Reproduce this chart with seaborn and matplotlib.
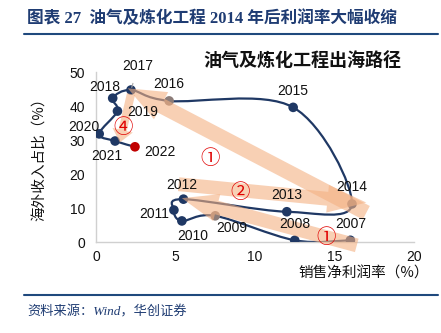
import numpy as np
import pandas as pd
import matplotlib
matplotlib.use("Agg")
import matplotlib.pyplot as plt
import seaborn as sns
from matplotlib.path import Path
from matplotlib.patches import PathPatch, FancyArrowPatch, ArrowStyle
from matplotlib.lines import Line2D

# ---- data ----
years = [2007, 2008, 2009, 2010, 2011, 2012, 2013, 2014, 2015, 2016, 2017, 2018, 2019, 2020, 2021, 2022]
net_margin = [16.0, 12.5, 7.5, 5.4, 4.9, 5.5, 12.0, 16.1, 12.4, 4.6, 2.2, 1.05, 1.35, 0.2, 1.2, 2.45]
overseas_share = [0.5, 0.5, 7.7, 6.2, 9.4, 12.6, 8.9, 11.2, 39.6, 41.5, 44.7, 42.3, 38.5, 31.8, 29.7, 28.0]
title_text = "图表 27  油气及炼化工程 2014 年后利润率大幅收缩"
inner_title = "油气及炼化工程出海路径"
x_label = "销售净利润率（%）"
y_label = "海外收入占比（%）"
source_text = "资料来源：Wind，华创证券"

# label offsets in points (style only)
label_offsets = {2007: (0, 12), 2008: (0, 12), 2009: (12, -9), 2010: (8, -11), 2011: (-14, -3),
                 2012: (-1, 10), 2013: (0, 12), 2014: (0, 12), 2015: (0, 12), 2016: (0, 12),
                 2017: (5, 17), 2018: (-6, 8), 2019: (18, -1), 2020: (-11, 5), 2021: (-6, -11),
                 2022: (18, -4)}

NAVY = "#1F3864"
GREY = "#8C7C78"
RED = "#C00000"
PEACH = "#F4B183"

sns.set_theme(style="white")
plt.rcParams["font.family"] = ["Liberation Sans", "Noto Sans CJK SC"]
plt.rcParams["axes.unicode_minus"] = False

fig = plt.figure(figsize=(4.41, 3.33), dpi=100)
ax = fig.add_axes([96/441, 1-242/333, 318/441, 170/333])

df = pd.DataFrame({"year": years, "margin": net_margin, "share": overseas_share})
df["kind"] = ["grey" if y in (2009, 2016) else ("red" if y == 2022 else "navy") for y in years]

# smooth connecting curve (Catmull-Rom → cubic Bezier through the data points)
P = df[["margin", "share"]].to_numpy()
verts = [P[0]]
codes = [Path.MOVETO]
n = len(P)
for i in range(n - 1):
    p0 = P[i - 1] if i > 0 else P[i]
    p1, p2 = P[i], P[i + 1]
    p3 = P[i + 2] if i + 2 < n else P[i + 1]
    c1 = p1 + (p2 - p0) / 6
    c2 = p2 - (p3 - p1) / 6
    verts += [c1, c2, p2]
    codes += [Path.CURVE4] * 3
ax.add_patch(PathPatch(Path(verts, codes), fill=False, edgecolor=NAVY, lw=1.6, zorder=2))

sns.scatterplot(data=df, x="margin", y="share", hue="kind",
                palette={"navy": NAVY, "grey": GREY, "red": RED},
                s=48, edgecolor="none", legend=False, zorder=3, ax=ax)

# translucent path arrows
def band(a, b, tail, hw, hl):
    st = ArrowStyle.Simple(head_length=hl, head_width=hw, tail_width=tail)
    ar = FancyArrowPatch(posA=a, posB=b, arrowstyle=st, mutation_scale=1,
                         shrinkA=0, shrinkB=0, color=PEACH, alpha=0.6, lw=0,
                         zorder=4, clip_on=False)
    ax.add_patch(ar)

band((17.0, 8.6), (2.0, 45.2), 11, 22, 27)     # ① upper
band((5.2, 17.0), (17.0, 11.6), 10, 20, 28)    # ②
band((16.4, -1.0), (5.4, 12.9), 10, 20, 26)    # ① lower
band((2.2, 43.5), (1.5, 29.3), 6, 15, 9)       # ④

# circled step numbers
circ = dict(color="#E00000", fontsize=14, ha="center", va="center",
            family=["Noto Sans CJK SC"], fontweight="light", zorder=6, clip_on=False)
ax.text(7.2, 24.7, "①", **circ)
ax.text(9.05, 14.7, "②", **circ)
ax.text(1.7, 33.8, "④", **circ)
ax.text(14.5, 1.2, "①", **circ)

# year labels
for yr, xx, yy in zip(years, net_margin, overseas_share):
    dx, dy = label_offsets[yr]
    if yr == 2017:
        ax.annotate(str(yr), (xx, yy), xytext=(dx, dy), textcoords="offset points",
                    ha="center", va="center", fontsize=10, color="#111111", zorder=7,
                    arrowprops=dict(arrowstyle="-", color="#A6A6A6", lw=0.8,
                                    shrinkA=5, shrinkB=2))
    else:
        ax.annotate(str(yr), (xx, yy), xytext=(dx, dy), textcoords="offset points",
                    ha="center", va="center", fontsize=10, color="#111111", zorder=7)

ax.set_xlim(0, 20)
ax.set_ylim(0, 50)
ax.set_xticks([0, 5, 10, 15, 20])
ax.set_yticks([0, 10, 20, 30, 40, 50])
ax.set_xlabel("")
ax.set_ylabel("")
for s in ["top", "right"]:
    ax.spines[s].set_visible(False)
for s in ["left", "bottom"]:
    ax.spines[s].set_color("#D0D0D0")
    ax.spines[s].set_linewidth(1.0)
ax.tick_params(axis="both", which="major", direction="out", length=3, width=0.8,
               color="#D0D0D0", labelsize=10, labelcolor="#111111", pad=5)
ax.tick_params(axis="x", pad=3)
ax.set_facecolor("white")

ax.text(0.648, 1.07, inner_title, transform=ax.transAxes, ha="center", va="center",
        fontsize=13, fontweight="bold", family=["Noto Sans CJK SC"], color="#111111")

# figure text
fig.text(27/441, 1-19/333, title_text, ha="left", va="center", fontsize=12,
         fontweight="bold", color="#1F3C73", family=["Liberation Serif", "Noto Sans CJK SC"])
fig.add_artist(Line2D([24/441, 438/441], [1-34/333, 1-34/333], color="#1F497D", lw=1.5))
fig.add_artist(Line2D([24/441, 438/441], [1-295/333, 1-295/333], color="#1F497D", lw=1.5))
fig.text(27/441, 1-312/333, source_text, ha="left", va="center", fontsize=9.5,
         style="italic", color="#1F3C73", family=["Liberation Serif", "Noto Sans CJK SC"])
fig.text(364/441, 1-274/333, x_label, ha="center", va="center", fontsize=10.5,
         color="#111111", family=["Noto Sans CJK SC"])
fig.text(40/441, 1-156/333, y_label, ha="center", va="center", fontsize=10.5, rotation=90,
         color="#111111", family=["Noto Sans CJK SC"])

fig.savefig("out.png", dpi=100, facecolor="white")
